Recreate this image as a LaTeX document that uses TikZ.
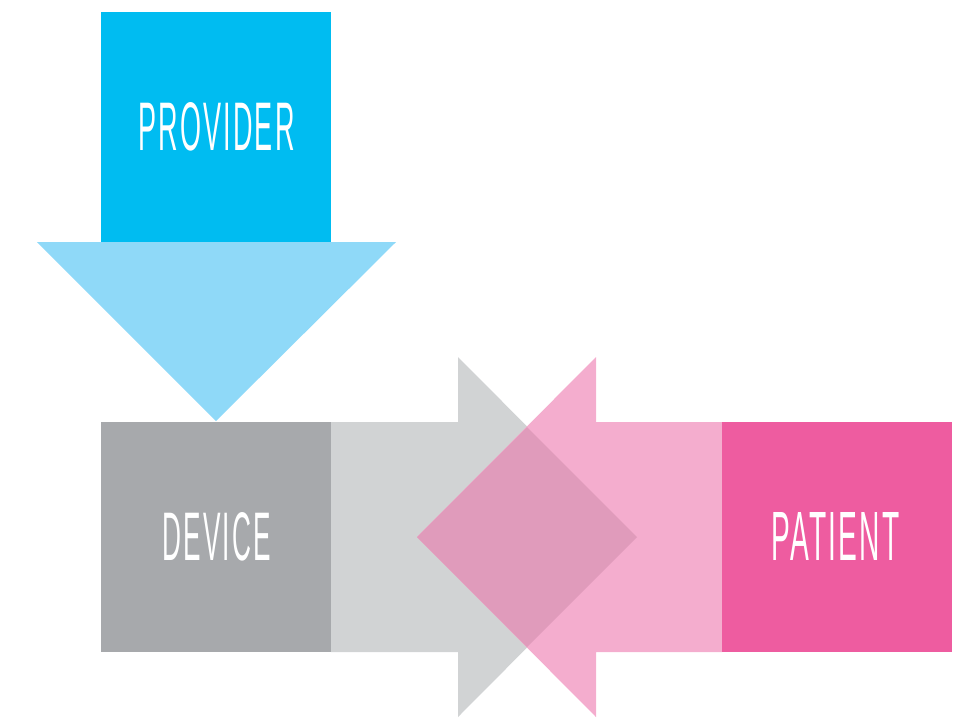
\documentclass[tikz,border=0pt]{standalone}
\usepackage{graphicx}
\usepackage{fontspec}
\setmainfont{Liberation Sans}
\definecolor{provblue}{HTML}{00BCF1}
\definecolor{lightblue}{HTML}{8FD9F8}
\definecolor{devgray}{HTML}{A7A9AC}
\definecolor{lightgray}{HTML}{D1D3D4}
\definecolor{lightpink}{HTML}{F4ADCE}
\definecolor{overlap}{HTML}{E09BBB}
\definecolor{patpink}{HTML}{EE5CA0}
\tikzset{
  box/.style={minimum width=230pt, minimum height=230pt, inner sep=0pt, text=white, draw=none},
  label/.style={inner sep=0pt, text=white}
}
\newcommand{\lbl}[2]{\resizebox{#1pt}{48pt}{\fontsize{20}{20}\selectfont\addfontfeature{LetterSpace=8}#2\kern-1.6pt}}
\begin{document}
\begin{tikzpicture}[x=1pt,y=-1pt]
\useasboundingbox (0,0) rectangle (956,724);
% provider
\node[box, fill=provblue] (provider) at (216,127) {};
\fill[lightblue] (37,242) -- (396,242) -- (216,421) -- cycle;
% gray arrow
\fill[lightgray] (331,422) -- (458,422) -- (458,357) -- (637,537) -- (458,717) -- (458,652) -- (331,652) -- cycle;
% pink arrow
\fill[lightpink] (722,422) -- (596,422) -- (596,357) -- (417,537) -- (596,717) -- (596,652) -- (722,652) -- cycle;
% overlap
\fill[overlap] (417,537) -- (527,427) -- (637,537) -- (527,647) -- cycle;
% boxes
\node[box, fill=devgray] (device) at (216,537) {};
\node[box, fill=patpink] (patient) at (837,537) {};
% labels
\node[label] (tprov) at (215.5,127) {\lbl{154}{PROVIDER}};
\node[label] (tdev) at (215.5,536.5) {\lbl{106}{DEVICE}};
\node[label] (tpat) at (834.5,536.5) {\lbl{126}{PATIENT}};
\end{tikzpicture}
\end{document}
